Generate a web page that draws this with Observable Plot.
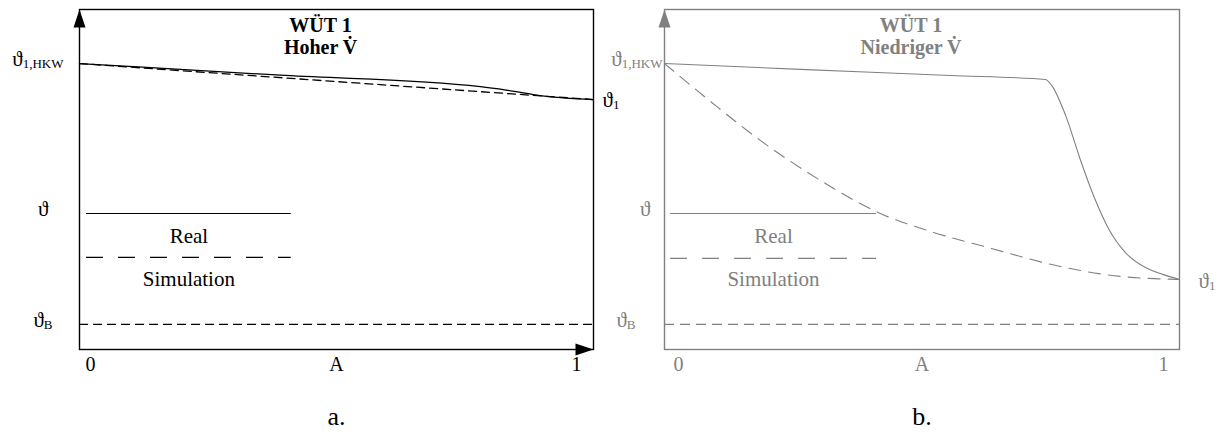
<!DOCTYPE html>
<html>
<head>
<meta charset="utf-8">
<script src="https://cdn.jsdelivr.net/npm/d3@7"></script>
<script src="https://cdn.jsdelivr.net/npm/@observablehq/plot@0.6"></script>
<style>
  body { margin: 0; background: #fff; }
  #wrap { position: relative; width: 1219px; height: 438px; overflow: hidden; }
  .panel { position: absolute; top: 0; }
  svg { overflow: visible; }
  svg text { font-family: "Liberation Serif", "Times New Roman", Times, serif; }
</style>
</head>
<body>
<div id="wrap"></div>
<script>
// Temperatures on a relative 0–100 scale, position A along the exchanger 0 … 1
const levelHKW = 84.1;   // ϑ1,HKW
const levelB = 7.4;      // ϑB

// a. WÜT 1, high volume flow
const realA_x = [0, 0.4, 0.78, 0.83, 0.9, 1];
const realA_y = [84.1, 80.6, 77.3, 76.3, 74.6, 73.5];
const simA_x = [0, 1];
const simA_y = [84.1, 73.5];

// b. WÜT 1, low volume flow
const realB_x = [0, 0.264, 0.555, 0.74, 0.753, 0.779, 0.808, 0.837, 0.862, 0.895, 0.934, 0.967, 1];
const realB_y = [84.1, 82.4, 80.6, 79.4, 77.4, 68.8, 55.6, 43.8, 35.6, 28.5, 24.1, 22.1, 20.6];
const simB_x = [0, 0.093, 0.186, 0.303, 0.419, 0.517, 0.633, 0.769, 0.885, 1];
const simB_y = [84.1, 72.5, 61.5, 49.7, 40.0, 34.7, 29.8, 24.4, 21.5, 20.6];

// Labels
const titlesA = ["WÜT 1", "Hoher V\u0307"];
const titlesB = ["WÜT 1", "Niedriger V\u0307"];
const xTickLabels = ["0", "A", "1"];
const yAxisSymbol = "ϑ";
const symHKW = ["ϑ", "1,HKW"];
const symB = ["ϑ", "B"];
const symEnd = ["ϑ", "1"];
const legendLabels = ["Real", "Simulation"];
const captions = ["a.", "b."];

const serif = '"Liberation Serif", "Times New Roman", Times, serif';

// Narrow filled arrowhead, tip at the origin, pointing up
const arrowHead = {
  draw(ctx) {
    ctx.moveTo(0, 0);
    ctx.lineTo(6, 18);
    ctx.lineTo(-6, 18);
    ctx.closePath();
  }
};

const zip = (xs, ys) => xs.map((x, i) => ({x, y: ys[i]}));
const sub = ([main, s]) => main + "_" + s;

function panel(o) {
  const c = o.color;
  const real = zip(o.realX, o.realY);
  const sim = zip(o.simX, o.simY);
  const endLevel = o.realY[o.realY.length - 1];
  const T = {fontFamily: serif, fill: c};
  const legMid = (o.legX1 + o.legX2) / 2;
  const marks = [
    Plot.ruleY([levelB], {stroke: c, strokeWidth: 1.2, strokeDasharray: o.baseDash}),
    Plot.line(sim, {x: "x", y: "y", stroke: c, strokeWidth: o.lw, strokeDasharray: o.simDash, curve: "monotone-x"}),
    Plot.line(real, {x: "x", y: "y", stroke: c, strokeWidth: o.lw, curve: "monotone-x"}),
    Plot.frame({stroke: c, strokeWidth: 1.4}),
    Plot.dot([{x: 0, y: 100}], {x: "x", y: "y", symbol: arrowHead, fill: c, stroke: "none"}),
    // title, two lines
    Plot.text([o.titles[0]], {...T, frameAnchor: "top", lineAnchor: "bottom", dx: o.titleDx, dy: 22, fontSize: 20, fontWeight: "bold"}),
    Plot.text([o.titles[1]], {...T, frameAnchor: "top", lineAnchor: "bottom", dx: o.titleDx, dy: 44.5, fontSize: 20, fontWeight: "bold"}),
    // x tick labels
    Plot.text([0], {...T, x: d => d, text: () => xTickLabels[0], frameAnchor: "bottom", textAnchor: "start", dx: o.zeroDx, dy: 21, fontSize: 20}),
    Plot.text([0.5], {...T, x: d => d, text: () => xTickLabels[1], frameAnchor: "bottom", dy: 21, fontSize: 20}),
    Plot.text([1], {...T, x: d => d, text: () => xTickLabels[2], frameAnchor: "bottom", textAnchor: "end", dx: o.oneDx, dy: 21, fontSize: 20}),
    // y labels
    Plot.text([levelHKW], {...T, x: 0, y: d => d, text: () => sub(symHKW), textAnchor: "end", dx: o.hkwDx, dy: -4, fontSize: 21}),
    Plot.text([41.1], {...T, x: 0, y: d => d, text: () => yAxisSymbol, textAnchor: "end", dx: o.thetaDx, fontSize: 21}),
    Plot.text([levelB], {...T, x: 0, y: d => d, text: () => sub(symB), textAnchor: "end", dx: o.bDx, dy: -4, fontSize: 21}),
    Plot.text([endLevel], {...T, x: 1, y: d => d, text: () => sub(symEnd), textAnchor: "start", dx: o.endDx, dy: o.endDy, fontSize: 21}),
    // legend
    Plot.ruleY([40.0], {x1: o.legX1, x2: o.legX2, stroke: c, strokeWidth: 1.2}),
    Plot.text([33.4], {...T, x: legMid, y: d => d, text: () => legendLabels[0], fontSize: 21}),
    Plot.ruleY([o.legDashY], {x1: o.legX1, x2: o.legX2, stroke: c, strokeWidth: 1.2, strokeDasharray: "17 15"}),
    Plot.text([20.8], {...T, x: legMid, y: d => d, text: () => legendLabels[1], fontSize: 21}),
    // caption
    Plot.text([0.5], {...T, fill: "#000", x: d => d, text: () => o.caption, frameAnchor: "bottom", dy: 75, fontSize: 26})
  ];
  if (o.xArrow) {
    marks.push(Plot.dot([{x: 1, y: 0}], {x: "x", y: "y", symbol: arrowHead, rotate: 90, fill: c, stroke: "none"}));
  }
  const svg = Plot.plot({
    width: o.width,
    height: 438,
    marginTop: 9,
    marginBottom: 89,
    marginLeft: o.marginLeft,
    marginRight: o.marginRight,
    x: {domain: [0, 1], axis: null},
    y: {domain: [0, 100], axis: null},
    style: {fontFamily: serif, background: "transparent", overflow: "visible"},
    marks
  });
  // turn "main_sub" labels into a subscripted tspan
  svg.querySelectorAll("text").forEach(t => {
    const s = t.textContent;
    const i = s.indexOf("_");
    if (i < 0) return;
    t.textContent = s.slice(0, i);
    const ts = document.createElementNS("http://www.w3.org/2000/svg", "tspan");
    ts.setAttribute("font-size", "13");
    ts.setAttribute("dy", "2");
    ts.textContent = s.slice(i + 1);
    t.appendChild(ts);
  });
  svg.classList.add("panel");
  svg.style.left = o.left + "px";
  return svg;
}

const wrap = document.getElementById("wrap");
wrap.appendChild(panel({
  left: 0, width: 609, marginLeft: 79, marginRight: 16,
  color: "#000", lw: 1.3,
  realX: realA_x, realY: realA_y, simX: simA_x, simY: simA_y,
  titles: titlesA, titleDx: -16, caption: captions[0],
  simDash: "8 5", baseDash: "9 5", xArrow: true,
  zeroDx: 6, oneDx: -12, hkwDx: -16, thetaDx: -31, bDx: -27, endDx: 9, endDy: 1,
  legX1: 0.0136, legX2: 0.412, legDashY: 27.1
}));
wrap.appendChild(panel({
  left: 609, width: 610, marginLeft: 55, marginRight: 40,
  color: "#808080", lw: 1.1,
  realX: realB_x, realY: realB_y, simX: simB_x, simY: simB_y,
  titles: titlesB, titleDx: -11, caption: captions[1],
  simDash: "12 8", baseDash: "10 6", xArrow: false,
  zeroDx: 9, oneDx: -11, hkwDx: -2, thetaDx: -14, bDx: -29, endDx: 19, endDy: 2,
  legX1: 0.0117, legX2: 0.4117, legDashY: 26.8
}));
</script>
</body>
</html>
